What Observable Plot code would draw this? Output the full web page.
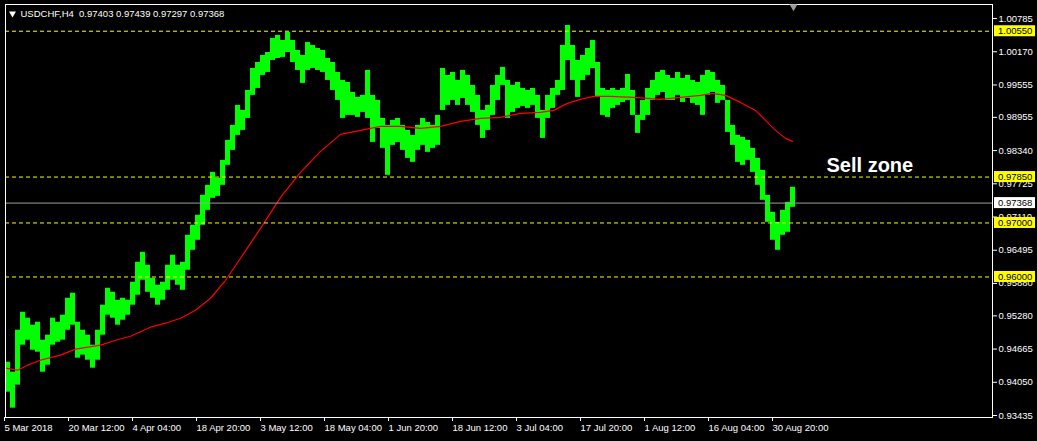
<!DOCTYPE html>
<html><head><meta charset="utf-8">
<script src="https://cdn.jsdelivr.net/npm/d3@7"></script>
<script src="https://cdn.jsdelivr.net/npm/@observablehq/plot@0.6"></script>
<style>
html,body{margin:0;padding:0;background:#000;}
#chart{width:1037px;height:441px;position:relative;overflow:hidden;}
</style></head><body><div id="chart"></div>
<script>
// ---- data ----
const symbolName = "USDCHF,H4";
const lastOHLC = [0.97403, 0.97439, 0.97297, 0.97368];
const barsPerGroup = 5; // each entry below = range of 5 consecutive H4 bars
const groupHigh = [
0.94422,0.94237,0.95014,0.95347,0.95236,0.95107,0.95162,0.94829,0.94922,0.95236,
0.95162,0.95292,0.95606,0.95699,0.95162,0.95014,0.94922,0.94737,0.95014,0.95477,
0.95791,0.95717,0.95569,0.95606,0.95569,0.95902,0.96272,0.96457,0.96217,0.95976,
0.95847,0.95902,0.96217,0.96402,0.96217,0.96272,0.96772,0.96957,0.97142,0.97512,
0.97697,0.97937,0.97826,0.98159,0.98529,0.98807,0.99177,0.99084,0.99454,0.99861,
0.99972,1.00102,1.00157,1.00416,1.00472,1.00379,1.00527,1.00379,1.00194,1.00102,
1.00342,1.00287,1.00231,1.00194,1.00046,0.99972,0.99787,0.99639,0.99602,0.99417,
0.99325,0.99362,0.99824,0.99362,0.99269,0.98936,0.98807,0.98899,0.98936,0.98807,
0.98714,0.98622,0.98807,0.98936,0.98862,0.98807,0.98992,0.99861,0.99732,0.99787,
0.99639,0.99824,0.99732,0.99547,0.99362,0.99084,0.99177,0.99547,0.99732,0.99880,
0.99639,0.99547,0.99602,0.99491,0.99454,0.99491,0.99362,0.99084,0.99362,0.99491,
0.99639,1.00287,1.00657,1.00287,1.00009,1.00102,1.00231,1.00379,0.99972,0.99491,
0.99454,0.99491,0.99454,0.99491,0.99750,0.99454,0.98992,0.99269,0.99491,0.99639,
0.99787,0.99824,0.99732,0.99676,0.99787,0.99676,0.99732,0.99639,0.99602,0.99732,
0.99824,0.99787,0.99639,0.99547,0.99269,0.98807,0.98622,0.98585,0.98529,0.98381,
0.98196,0.97974,0.97512,0.97197,0.97012,0.97234,0.97382,0.97660];
const groupLow = [
0.93867,0.93571,0.93997,0.94737,0.94829,0.94644,0.94607,0.94237,0.94367,0.94737,
0.94792,0.94829,0.95014,0.95107,0.94496,0.94552,0.94459,0.94311,0.94459,0.94922,
0.95292,0.95236,0.95107,0.95199,0.95292,0.95477,0.95662,0.95939,0.95717,0.95606,
0.95477,0.95569,0.95754,0.95939,0.95847,0.95754,0.96124,0.96494,0.96679,0.96957,
0.97234,0.97456,0.97493,0.97697,0.98067,0.98344,0.98622,0.98714,0.98936,0.99362,
0.99491,0.99732,0.99787,1.00009,1.00046,1.00065,1.00157,0.99972,0.99824,0.99584,
0.99824,0.99861,0.99824,0.99787,0.99639,0.99454,0.99269,0.98936,0.98992,0.98992,
0.98955,0.99047,0.98936,0.98492,0.98751,0.98381,0.97882,0.98437,0.98492,0.98344,
0.98196,0.98122,0.98344,0.98437,0.98307,0.98381,0.98437,0.99084,0.99177,0.99269,
0.99177,0.99306,0.99177,0.99047,0.98807,0.98566,0.98714,0.98992,0.99269,0.99547,
0.98936,0.99047,0.99121,0.99158,0.99121,0.99177,0.98936,0.98566,0.98936,0.99121,
0.99362,0.99454,1.00009,0.99639,0.99325,0.99639,0.99732,0.99861,0.99325,0.98992,
0.98955,0.99121,0.99177,0.99232,0.99269,0.98992,0.98659,0.98899,0.98992,0.99269,
0.99362,0.99417,0.99269,0.99269,0.99362,0.99232,0.99306,0.99214,0.99177,0.98992,
0.99362,0.99417,0.99214,0.99269,0.98677,0.98437,0.98122,0.98067,0.98159,0.97937,
0.97697,0.97419,0.97012,0.96679,0.96494,0.96772,0.96827,0.97290];
// moving average (bar index, value)
const maBar = [0,12,22,35,55,70,95,110,125,145,160,175,190,205,220,235,255,275,295,315,335,355,375,395,415,435,455,475,495,515,535,548,562,575,588,605,628,642,655,675,695,707,720,735,750,760,770,780,787];
const maValue = [0.94311,0.94274,0.94367,0.94459,0.94552,0.94663,0.94737,0.94829,0.94903,0.95070,0.95144,0.95236,0.95384,0.95606,0.95939,0.96346,0.96901,0.97475,0.97937,0.98326,0.98640,0.98714,0.98788,0.98788,0.98751,0.98788,0.98881,0.98936,0.98955,0.99029,0.99047,0.99084,0.99214,0.99288,0.99343,0.99343,0.99325,0.99306,0.99288,0.99325,0.99362,0.99399,0.99362,0.99232,0.99084,0.98899,0.98714,0.98566,0.98511];
const timeTickBars = [0,64,128,192,256,320,384,448,512,576,640,704,768];
const timeTickLabels = ["5 Mar 2018","20 Mar 12:00","4 Apr 04:00","18 Apr 20:00","3 May 12:00","18 May 04:00","1 Jun 20:00","18 Jun 12:00","3 Jul 04:00","17 Jul 20:00","1 Aug 12:00","16 Aug 04:00","30 Aug 20:00"];
const priceTicks = [0.93435,0.94050,0.94665,0.95280,0.95880,0.96495,0.97110,0.97725,0.98340,0.98955,0.99555,1.00170,1.00785];
const yellowLevels = [1.00550, 0.97850, 0.97000, 0.96000];
const currentPrice = 0.97368;
const notes = [{text: "Sell zone", bar: 821, price: 0.9794}];
const shiftBar = 788;
const visibleBars = 987;
const priceRange = [0.93398, 1.01045];

// ---- build ----
const bars = groupHigh.map((h, i) => ({b0: i * barsPerGroup, b1: (i + 1) * barsPerGroup, high: h, low: groupLow[i]}));
const ma = maBar.map((b, i) => ({bar: b, value: maValue[i]}));
const header = `${symbolName}  ${lastOHLC.map(v => v.toFixed(5)).join(" ")}`;
const font = "'Liberation Sans', Arial, sans-serif";

const chart = Plot.plot({
  width: 1037, height: 441,
  marginLeft: 5, marginRight: 45, marginTop: 4, marginBottom: 24,
  style: {background: "#000", color: "#fff", fontFamily: font, fontSize: "9.5px", overflow: "visible"},
  x: {type: "linear", domain: [0, visibleBars], label: null},
  y: {domain: priceRange, label: null},
  marks: [
    Plot.rect(bars, {x1: "b0", x2: "b1", y1: "low", y2: "high", fill: "#00ff00"}),
    Plot.line(ma, {x: "bar", y: "value", stroke: "#ff0000", strokeWidth: 1.2}),
    Plot.ruleY(yellowLevels, {stroke: "#ffff00", strokeDasharray: "4,3", strokeWidth: 1}),
    Plot.ruleY([currentPrice], {stroke: "#a0a0a8", strokeWidth: 1}),
    Plot.text(notes, {x: "bar", y: "price", text: "text", textAnchor: "start", lineAnchor: "bottom", fill: "#fff", fontSize: 20, fontWeight: "bold", fontFamily: font}),
    Plot.frame({stroke: "#fff"}),
    Plot.axisX({ticks: timeTickBars, tickFormat: (d) => timeTickLabels[timeTickBars.indexOf(d)], anchor: "bottom", tickSize: 4, tickPadding: 3, textAnchor: "start", dx: -1, label: null, fill: "#fff"}),
    Plot.axisY({ticks: priceTicks, tickFormat: (d) => d.toFixed(5), anchor: "right", tickSize: 4, tickPadding: 2, label: null, fill: "#fff"}),
    Plot.text([header], {text: (d) => d, frameAnchor: "top-left", textAnchor: "start", lineAnchor: "top", dx: 15, dy: 6, fill: "#fff", fontSize: 9.5}),
    Plot.dot([0], {frameAnchor: "top-left", dx: 7, dy: 9, symbol: "triangle", r: 2.6, rotate: 180, fill: "#fff", stroke: "none"}),
    Plot.dot([shiftBar], {x: (d) => d, frameAnchor: "top", dy: 2, symbol: "triangle", r: 3, rotate: 180, fill: "#9a9aa0", stroke: "none"})
  ]
});
document.getElementById("chart").append(chart);

// price labels with coloured boxes on the right axis
const yScale = chart.scale("y");
const g = d3.select(chart).append("g").attr("font-family", font).attr("font-size", 9.5).attr("text-anchor", "start");
const boxX = 1037 - 45 + 2;
[...yellowLevels.map(v => ({v, fill: "#ffff00"})), {v: currentPrice, fill: "#ffffff"}].forEach(d => {
  const cy = yScale.apply(d.v);
  g.append("rect").attr("x", boxX).attr("y", cy - 5.5).attr("width", 41).attr("height", 11).attr("fill", d.fill);
  g.append("text").attr("x", boxX + 4).attr("y", cy + 3.5).attr("fill", "#000").attr("text-anchor", "start").text(d.v.toFixed(5));
});
</script></body></html>
